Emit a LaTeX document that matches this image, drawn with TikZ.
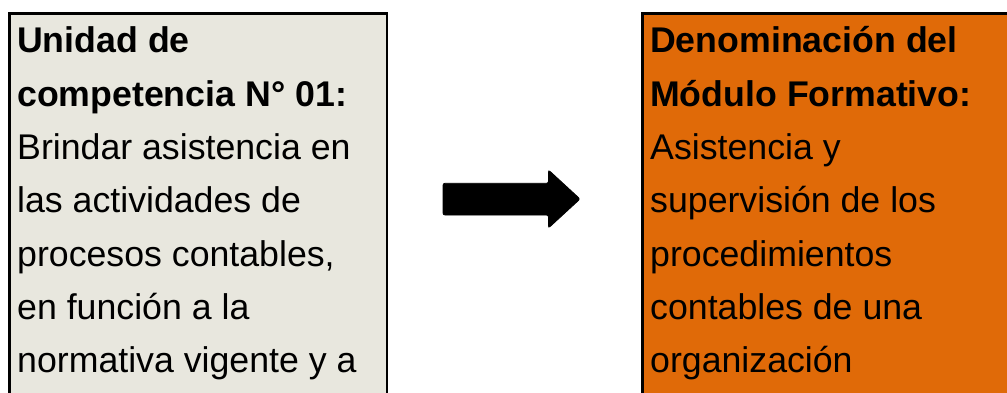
\documentclass[tikz,border=0pt]{standalone}
\usepackage{fontspec}
\setmainfont{Liberation Sans}
\definecolor{leftfill}{HTML}{E8E7DE}
\definecolor{rightfill}{HTML}{E06A08}
\tikzset{
  panel/.style={line width=2.6pt, draw=black},
  boxtext/.style={anchor=base west, inner sep=0pt, text=black,
    font=\fontsize{35.7pt}{53.3pt}\selectfont},
  bigarrow/.style={fill=black, draw=black, line width=0.8pt, rounded corners=2pt}
}
\begin{document}
\begin{tikzpicture}[x=1pt,y=1pt]
\useasboundingbox (0,0) rectangle (1007,392);
\clip (0,0) rectangle (1007,392);
% left panel
\fill[leftfill] (9.3,-10) rectangle (387,378.3);
\draw[panel] (9.3,-10) -- (9.3,378.3) -- (387,378.3) -- (387,-10);
% right panel
\fill[rightfill] (642.3,-10) rectangle (1020,378.3);
\draw[panel] (642.3,-10) -- (642.3,378.3) -- (1020,378.3);
% texts
\node[boxtext] (lefttext) at (17,339) {\renewcommand\arraystretch{1}\begin{tabular}[t]{@{}l@{}}
\textbf{Unidad de}\\
\textbf{competencia N° 01:}\\
Brindar asistencia en\\
las actividades de\\
procesos contables,\\
en función a la\\
normativa vigente y a
\end{tabular}};
\node[boxtext] (righttext) at (650,339) {\renewcommand\arraystretch{1}\begin{tabular}[t]{@{}l@{}}
\textbf{Denominación del}\\
\textbf{Módulo Formativo:}\\
Asistencia y\\
supervisión de los\\
procedimientos\\
contables de una\\
organización
\end{tabular}};
% arrow
\filldraw[bigarrow] (443,208.7) -- (548.5,208.7) -- (548.5,222) -- (580,193) -- (548.5,164) -- (548.5,177) -- (443,177) -- cycle;
\end{tikzpicture}
\end{document}
